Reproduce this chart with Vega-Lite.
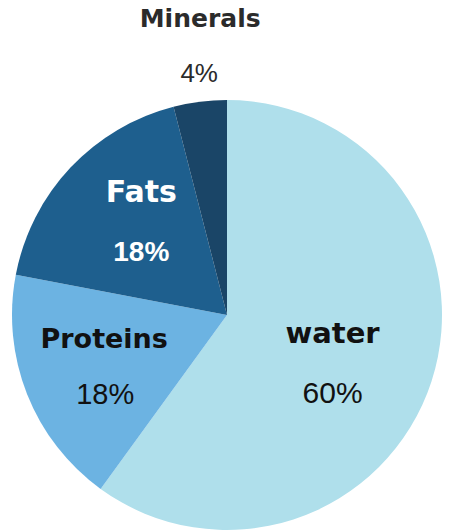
{
  "$schema": "https://vega.github.io/schema/vega-lite/v6.json",
  "width": 430,
  "height": 430,
  "autosize": {"type": "none"},
  "padding": {"left": 12, "top": 100, "right": 7, "bottom": 1},
  "background": "white",
  "view": {"stroke": null},
  "data": {
    "values": [
      {"category": "water", "value": 60, "label": "60%", "rank": 1},
      {"category": "Proteins", "value": 18, "label": "18%", "rank": 2},
      {"category": "Fats", "value": 18, "label": "18%", "rank": 3},
      {"category": "Minerals", "value": 4, "label": "4%", "rank": 4}
    ]
  },
  "encoding": {
    "theta": {"field": "value", "type": "quantitative", "stack": true},
    "order": {"field": "rank", "type": "quantitative", "sort": "ascending"}
  },
  "layer": [
    {
      "mark": {"type": "arc", "outerRadius": 215, "stroke": null},
      "encoding": {
        "color": {
          "field": "category",
          "type": "nominal",
          "scale": {
            "domain": ["water", "Proteins", "Fats", "Minerals"],
            "range": ["#afdfeb", "#6cb3e2", "#1e5f8e", "#1a4567"]
          },
          "legend": null
        }
      }
    },
    {
      "mark": {"type": "text", "radius": 111, "dx": 0, "dy": -6, "font": "DejaVu Sans", "fontWeight": "bold", "fontSize": 29, "fill": "#111111", "align": "center", "baseline": "alphabetic"},
      "encoding": {
        "text": {"field": "category"},
        "opacity": {"condition": {"test": "datum.category === 'water'", "value": 1}, "value": 0}
      }
    },
    {
      "mark": {"type": "text", "radius": 111, "dx": 0, "dy": 54, "font": "Liberation Sans", "fontWeight": "normal", "fontSize": 30, "fill": "#111111", "align": "center", "baseline": "alphabetic"},
      "encoding": {
        "text": {"field": "label"},
        "opacity": {"condition": {"test": "datum.category === 'water'", "value": 1}, "value": 0}
      }
    },
    {
      "mark": {"type": "text", "radius": 131, "dx": -1, "dy": -15, "font": "DejaVu Sans", "fontWeight": "bold", "fontSize": 27, "fill": "#111111", "align": "center", "baseline": "alphabetic"},
      "encoding": {
        "text": {"field": "category"},
        "opacity": {"condition": {"test": "datum.category === 'Proteins'", "value": 1}, "value": 0}
      }
    },
    {
      "mark": {"type": "text", "radius": 131, "dx": 0, "dy": 41, "font": "Liberation Sans", "fontWeight": "normal", "fontSize": 29, "fill": "#111111", "align": "center", "baseline": "alphabetic"},
      "encoding": {
        "text": {"field": "label"},
        "opacity": {"condition": {"test": "datum.category === 'Proteins'", "value": 1}, "value": 0}
      }
    },
    {
      "mark": {"type": "text", "radius": 117.6, "dx": 0, "dy": -32, "font": "DejaVu Sans", "fontWeight": "bold", "fontSize": 30, "fill": "#ffffff", "align": "center", "baseline": "alphabetic"},
      "encoding": {
        "text": {"field": "category"},
        "opacity": {"condition": {"test": "datum.category === 'Fats'", "value": 1}, "value": 0}
      }
    },
    {
      "mark": {"type": "text", "radius": 117.6, "dx": 0, "dy": 27, "font": "Liberation Sans", "fontWeight": "bold", "fontSize": 28, "fill": "#ffffff", "align": "center", "baseline": "alphabetic"},
      "encoding": {
        "text": {"field": "label"},
        "opacity": {"condition": {"test": "datum.category === 'Fats'", "value": 1}, "value": 0}
      }
    },
    {
      "mark": {"type": "text", "radius": 270, "dx": 7, "dy": -20, "font": "DejaVu Sans", "fontWeight": "bold", "fontSize": 25, "fill": "#2b2b2b", "align": "center", "baseline": "alphabetic"},
      "encoding": {
        "text": {"field": "category"},
        "opacity": {"condition": {"test": "datum.category === 'Minerals'", "value": 1}, "value": 0}
      }
    },
    {
      "mark": {"type": "text", "radius": 270, "dx": 6, "dy": 35, "font": "Liberation Sans", "fontWeight": "normal", "fontSize": 26, "fill": "#2b2b2b", "align": "center", "baseline": "alphabetic"},
      "encoding": {
        "text": {"field": "label"},
        "opacity": {"condition": {"test": "datum.category === 'Minerals'", "value": 1}, "value": 0}
      }
    }
  ]
}
